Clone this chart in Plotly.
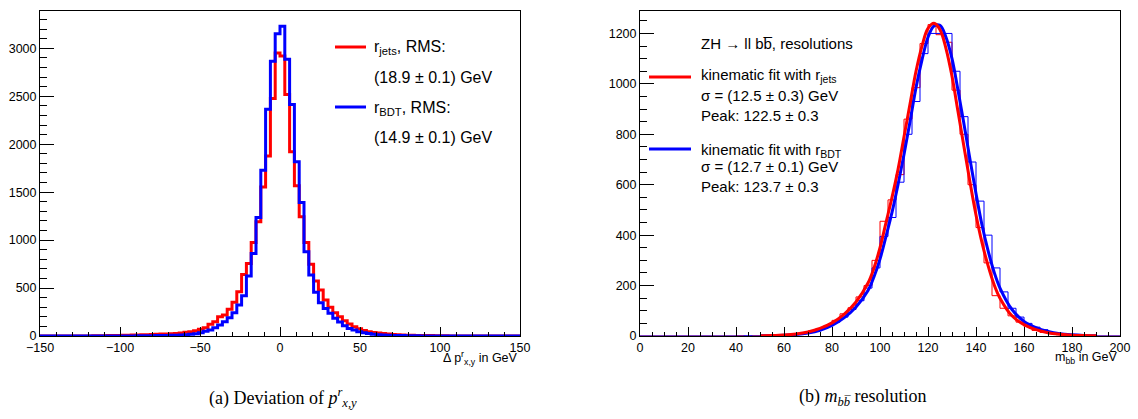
import numpy as np
import plotly.graph_objects as go

W, H = 1138, 419

# %% left panel: deviation of p^r_{x,y}, 100 bins from -150 to 150 GeV
dp_edges = np.arange(-150, 151, 3)
dp_jets = [0, 0, 0, 0, 0, 0, 1, 0, 1, 1,
           1, 2, 2, 3, 4, 5, 6, 7, 8, 10,
           11, 12, 14, 16, 18, 20, 22, 24, 27, 32,
           38, 45, 55, 70, 87, 122, 149, 201, 219, 278,
           351, 462, 642, 757, 976, 1191, 1555, 1878, 2476, 2951,
           2920, 2518, 1920, 1566, 1243, 976, 747, 573, 479, 375,
           299, 243, 201, 160, 125, 97, 75, 58, 45, 36,
           30, 25, 20, 16, 13, 11, 9, 7, 6, 5,
           4, 4, 3, 2, 2, 1, 1, 1, 0, 1,
           0, 0, 0, 0, 0, 0, 0, 0, 0, 0]
dp_bdt = [0, 0, 0, 0, 0, 0, 0, 0, 0, 0,
          0, 0, 0, 1, 0, 1, 1, 1, 1, 1,
          2, 2, 3, 3, 4, 5, 6, 7, 9, 11,
          14, 18, 24, 35, 49, 62, 87, 115, 149, 191,
          243, 323, 420, 625, 861, 1236, 1729, 2365, 2865, 3153,
          3229, 2885, 2413, 1816, 1392, 878, 635, 455, 347, 288,
          236, 184, 146, 108, 78, 62, 45, 34, 26, 19,
          14, 11, 8, 6, 5, 4, 3, 2, 2, 1,
          1, 1, 0, 0, 1, 0, 0, 0, 0, 0,
          0, 0, 0, 0, 0, 0, 0, 0, 0, 0]

# %% right panel: m_bb, 60 bins from 0 to 200 GeV plus fitted curves
mbb_edges = np.linspace(0, 200, 61)
mbb_jets = [0, 0, 0, 0, 0, 0, 0, 0, 0, 0,
            0, 0, 1, 0, 1, 1, 2, 3, 5, 8,
            12, 20, 30, 42, 62, 88, 112, 155, 200, 300,
            455, 540, 640, 860, 985, 1160, 1235, 1195, 1165, 975,
            800, 600, 430, 290, 160, 110, 80, 55, 38, 22,
            14, 9, 5, 4, 2, 1, 1, 0, 0, 0]
mbb_bdt = [0, 0, 0, 0, 0, 0, 0, 0, 0, 0,
           0, 0, 0, 1, 0, 0, 1, 2, 4, 6,
           10, 18, 28, 38, 55, 75, 105, 140, 190, 270,
           395, 470, 610, 800, 930, 1120, 1200, 1200, 1200, 1050,
           870, 690, 535, 400, 270, 175, 110, 75, 50, 35,
           25, 12, 8, 5, 3, 2, 1, 0, 0, 0]

fit_x = [50, 55, 60, 65, 70, 75, 80, 85, 90, 95,
         97.5, 100, 102.5, 105, 107.5, 110, 112.5, 115, 117.5, 120, 122.5,
         125, 127.5, 130, 132.5, 135, 137.5, 140, 142.5, 145, 147.5, 150,
         155, 160, 165, 170, 175, 180, 185, 190]
fit_jets = [1, 2, 4, 8, 16, 30, 52, 86, 135, 210,
            270, 350, 450, 550, 660, 790, 920, 1050, 1150, 1220, 1240,
            1215, 1140, 1030, 890, 750, 610, 480, 370, 280, 205, 150,
            80, 45, 25, 13, 7, 3, 1.5, 0.7]
fit_bdt = [1, 1.5, 3, 6, 12, 23, 42, 72, 115, 180,
           235, 305, 395, 490, 600, 720, 850, 985, 1095, 1185, 1230,
           1232, 1185, 1100, 975, 840, 700, 565, 440, 340, 255, 190,
           105, 58, 33, 18, 9, 4.5, 2, 1]

RED = "#ff0000"
BLUE = "#0000ff"
SANS = "Liberation Sans, Arial, sans-serif"
SERIF = "Liberation Serif, Times New Roman, serif"


def px(x):
    return x / W


def py(y):
    return 1 - y / H


def step(edges, vals):
    # ROOT-like histogram outline
    return list(edges), list(vals) + [vals[-1]]


fig = go.Figure()

for vals, col in [(dp_jets, RED), (dp_bdt, BLUE)]:
    xs, ys = step(dp_edges, vals)
    fig.add_trace(go.Scatter(x=xs, y=ys, mode="lines", line_shape="hv",
                             line=dict(color=col, width=3),
                             xaxis="x", yaxis="y", showlegend=False))

for vals, col in [(mbb_jets, RED), (mbb_bdt, BLUE)]:
    xs, ys = step(mbb_edges, vals)
    fig.add_trace(go.Scatter(x=xs, y=ys, mode="lines", line_shape="hv",
                             line=dict(color=col, width=1),
                             xaxis="x2", yaxis="y2", showlegend=False))

fig.add_trace(go.Scatter(x=fit_x, y=fit_bdt, mode="lines", line_shape="spline",
                         line=dict(color=BLUE, width=3),
                         xaxis="x2", yaxis="y2", showlegend=False))
fig.add_trace(go.Scatter(x=fit_x, y=fit_jets, mode="lines", line_shape="spline",
                         line=dict(color=RED, width=3),
                         xaxis="x2", yaxis="y2", showlegend=False))

tickfont = dict(family=SANS, size=12.5, color="black")


def xax(dom, rng, dtick, minor):
    return dict(domain=dom, range=rng, dtick=dtick, tick0=rng[0],
                ticks="inside", ticklen=9, tickwidth=1, tickcolor="black",
                minor=dict(dtick=minor, ticks="inside", ticklen=4.5,
                           tickcolor="black", showgrid=False),
                showline=True, mirror=True, linecolor="black", linewidth=1,
                showgrid=False, zeroline=False, tickfont=tickfont,
                automargin=False)


def yax(dom, rng, dtick, minor, anchor):
    return dict(domain=dom, range=rng, dtick=dtick, anchor=anchor,
                ticks="inside", ticklen=14, tickwidth=1, tickcolor="black",
                minor=dict(dtick=minor, ticks="inside", ticklen=7,
                           tickcolor="black", showgrid=False),
                showline=True, mirror=True, linecolor="black", linewidth=1,
                showgrid=False, zeroline=False, tickfont=tickfont,
                automargin=False)


ydom = [py(336), py(11)]
fig.update_layout(
    width=W, height=H,
    margin=dict(l=0, r=0, t=0, b=0, autoexpand=False),
    paper_bgcolor="white", plot_bgcolor="white",
    xaxis=dict(xax([px(40), px(520)], [-150, 150], 50, 10), anchor="y"),
    yaxis=yax(ydom, [0, 3389], 500, 100, "x"),
    xaxis2=dict(xax([px(640), px(1120)], [0, 200], 20, 5), anchor="y2"),
    yaxis2=yax(ydom, [0, 1289], 200, 50, "x2"),
)

shapes = []
for x0, x1, y, col in [(335, 366, 47, RED), (335, 366, 107, BLUE),
                       (649, 691, 77, RED), (649, 691, 149, BLUE)]:
    shapes.append(dict(type="line", xref="paper", yref="paper",
                       x0=px(x0), x1=px(x1), y0=py(y), y1=py(y),
                       line=dict(color=col, width=3)))
fig.update_layout(shapes=shapes)

texts = [
    # left legend
    (372, 47, "r<sub>jets</sub>, RMS:", 16, "left", SANS),
    (372, 77, "(18.9 ± 0.1) GeV", 16, "left", SANS),
    (372, 108, "r<sub>BDT</sub>, RMS:", 16, "left", SANS),
    (372, 137, "(14.9 ± 0.1) GeV", 16, "left", SANS),
    # right legend
    (699, 43, "ZH → ll bb\u0305, resolutions", 15, "left", SANS),
    (699, 75, "kinematic fit with r<sub>jets</sub>", 15, "left", SANS),
    (699, 96, "σ = (12.5 ± 0.3) GeV", 15, "left", SANS),
    (699, 115, "Peak: 122.5 ± 0.3", 15, "left", SANS),
    (699, 150, "kinematic fit with r<sub>BDT</sub>", 15, "left", SANS),
    (699, 167, "σ = (12.7 ± 0.1) GeV", 15, "left", SANS),
    (699, 186, "Peak: 123.7 ± 0.3", 15, "left", SANS),
    # axis titles
    (520, 358, "Δ p<sup>r</sup><sub>x,y</sub> in GeV", 12.5, "right", SANS),
    (1120, 358, "m<sub>bb</sub> in GeV", 12.5, "right", SANS),
    # captions
    (283, 397, "(a) Deviation of <i>p</i><sup><i>r</i></sup><sub><i>x,y</i></sub>", 18, "center", SERIF),
    (863, 397, "(b) <i>m</i><sub><i>b</i><i>b\u0305</i></sub> resolution", 18, "center", SERIF),
]
annotations = []
for x, y, t, size, anchor, fam in texts:
    annotations.append(dict(x=px(x), y=py(y), xref="paper", yref="paper",
                            text=t, showarrow=False, xanchor=anchor,
                            yanchor="middle",
                            font=dict(family=fam, size=size, color="black")))
fig.update_layout(annotations=annotations)

# page body has a default 8px margin, drop it so the figure sits at 0,0
fig.write_html("out.html", config={"displayModeBar": False},
               post_script="document.body.style.margin='0px';")
